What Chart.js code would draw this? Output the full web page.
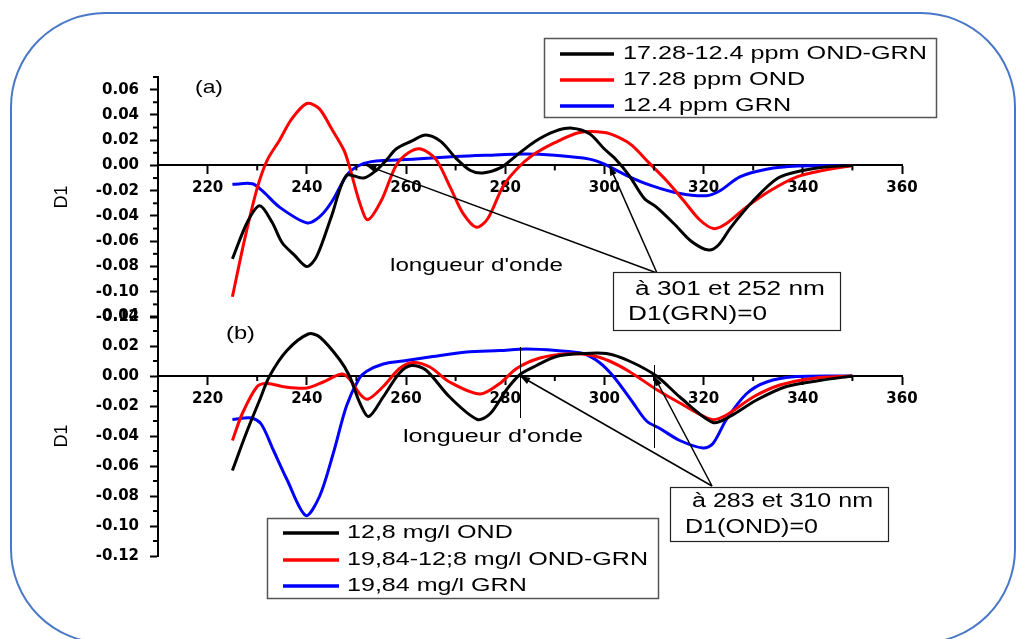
<!DOCTYPE html>
<html><head><meta charset="utf-8">
<script src="https://cdn.jsdelivr.net/npm/chart.js@4.4.1/dist/chart.umd.min.js"></script>
<style>
html,body{margin:0;padding:0;background:#fff;width:1020px;height:639px;overflow:hidden;}
#wrap{position:relative;width:1020px;height:639px;overflow:hidden;}
#frame{position:absolute;left:10px;top:12px;width:1006px;height:632px;box-sizing:border-box;border:2px solid #4a78c8;border-radius:95px;}
canvas{position:absolute;left:0;}
#ca{top:0;}
#cb{top:240px;}
</style></head><body>
<div id="wrap"><div id="frame"></div>
<canvas id="ca" width="1020" height="340"></canvas>
<canvas id="cb" width="1020" height="399"></canvas>
</div>
<script>
// ---------- data (wavelength in nm, first derivative D1) ----------
const xTicks  = [220,240,260,280,300,320,340,360];
const yTicksA = [-0.12,-0.10,-0.08,-0.06,-0.04,-0.02,0,0.02,0.04,0.06];
const yTicksB = [-0.12,-0.10,-0.08,-0.06,-0.04,-0.02,0,0.02,0.04];

// panel (a)
const labelsA = ['17.28-12.4 ppm OND-GRN','17.28 ppm OND','12.4 ppm GRN'];
const aBlackNm = [225,228,230.5,233,235,237.5,240,242,245,248,251.5,254,256,258,261,264,267,270,273,275.5,279,282,286,290,293.5,297,300,302,305,308,310.5,314,317.5,321,323,325.5,330,335,340,345,350];
const aBlackD1 = [-0.074,-0.045,-0.032,-0.045,-0.061,-0.071,-0.080,-0.072,-0.040,-0.008,-0.010,-0.004,0.004,0.013,0.019,0.024,0.019,0.006,-0.004,-0.006,-0.002,0.007,0.019,0.027,0.0295,0.025,0.013,0.006,-0.008,-0.026,-0.033,-0.046,-0.060,-0.067,-0.063,-0.049,-0.028,-0.010,-0.004,-0.001,0];
const aRedNm = [225,227.5,230,232,234.5,237,240,242.5,245,247.5,248.6,250.7,252.3,255,258,260.5,263,266,269,271.5,274.2,276.5,279.5,282.3,285.5,290,295,300,303,305.5,309,312.5,316,319.2,322,324.6,328.6,333.4,338.8,344,350];
const aRedD1 = [-0.104,-0.058,-0.018,0.004,0.020,0.037,0.049,0.045,0.029,0.012,-0.001,-0.030,-0.043,-0.028,0.000,0.010,0.013,0.005,-0.018,-0.038,-0.049,-0.042,-0.017,-0.003,0.008,0.018,0.026,0.026,0.022,0.016,0.002,-0.012,-0.028,-0.043,-0.050,-0.046,-0.033,-0.020,-0.009,-0.004,0];
const aBlueNm = [225,229,231,234.5,240,242.5,245,248,250,253,262,270,276,284,290,297,300,304.5,309.5,315,320.5,323.3,327.3,332.7,339,350];
const aBlueD1 = [-0.015,-0.0145,-0.020,-0.033,-0.0455,-0.041,-0.029,-0.008,-0.001,0.003,0.005,0.007,0.008,0.009,0.008,0.005,0.001,-0.008,-0.016,-0.022,-0.024,-0.020,-0.009,-0.003,-0.0005,0];

// panel (b)
const labelsB = ['12,8 mg/l OND','19,84-12;8 mg/l OND-GRN','19,84 mg/l GRN'];
const bBlackNm = [225,227.8,230.5,232.5,236,240.3,242.6,246.6,248.6,250.7,252.5,255.4,258.7,261.1,264,268.8,274.4,277,280.3,283,286.3,290.3,295.7,300.4,305,310.5,315.2,321.9,325.3,330.7,336.7,343.4,350];
const bBlackD1 = [-0.063,-0.038,-0.016,0.000,0.017,0.028,0.026,0.011,0.000,-0.018,-0.027,-0.014,0.002,0.007,0.004,-0.014,-0.029,-0.025,-0.009,0.001,0.007,0.013,0.015,0.015,0.010,0.000,-0.014,-0.031,-0.027,-0.016,-0.007,-0.003,0];
const bRedNm = [225,227,230,232,236,240,243.3,247,248.6,250.7,252.3,255.4,258.7,261.4,264.8,268.8,274.9,278.9,282.3,287,292.4,297.1,301,305,310.5,315.2,321.6,324.6,330,335.4,342,350];
const bRedD1 = [-0.043,-0.025,-0.007,-0.005,-0.0075,-0.008,-0.004,0.0013,-0.002,-0.012,-0.0155,-0.007,0.005,0.009,0.006,-0.004,-0.012,-0.005,0.005,0.012,0.0147,0.014,0.010,0.003,-0.009,-0.018,-0.029,-0.026,-0.014,-0.006,-0.0016,0];
const bBlueNm = [225,228.8,230.8,233.2,236,239.8,242.6,245.3,248,250.5,252,255.4,259.4,265.4,272.2,278.9,284.3,290.3,295.7,299,302,305.8,308.5,311.2,315.2,319.9,321.9,324.6,328.6,332.7,338.8,350];
const bBlueD1 = [-0.029,-0.028,-0.032,-0.049,-0.069,-0.093,-0.080,-0.052,-0.020,-0.002,0.003,0.008,0.010,0.013,0.016,0.017,0.018,0.017,0.015,0.009,-0.001,-0.018,-0.030,-0.035,-0.043,-0.048,-0.045,-0.029,-0.012,-0.004,-0.0004,0];

// ---------- helpers ----------
const pts = (xs, ys) => xs.map((x, i) => ({x, y: ys[i]}));
const TXT_FONT = '"Liberation Sans", Arial, sans-serif';

function seg(ctx, x1, y1, x2, y2) { ctx.beginPath(); ctx.moveTo(x1, y1); ctx.lineTo(x2, y2); ctx.stroke(); }
function arrow(ctx, x1, y1, x2, y2) {
  seg(ctx, x1, y1, x2, y2);
  const a = Math.atan2(y2 - y1, x2 - x1), L = 10, H = 3.5;
  ctx.beginPath();
  ctx.moveTo(x2, y2);
  ctx.lineTo(x2 - L * Math.cos(a) + H * Math.sin(a), y2 - L * Math.sin(a) - H * Math.cos(a));
  ctx.lineTo(x2 - L * Math.cos(a) - H * Math.sin(a), y2 - L * Math.sin(a) + H * Math.cos(a));
  ctx.closePath(); ctx.fill();
}
function stretchText(ctx, text, x, y, size, width, sxFixed) {
  ctx.save();
  ctx.font = size + 'px ' + TXT_FONT;
  ctx.textBaseline = 'middle'; ctx.textAlign = 'left'; ctx.fillStyle = '#000';
  const w = ctx.measureText(text).width;
  const sx = sxFixed || (width ? width / w : 1);
  ctx.translate(x, y); ctx.scale(sx, 1); ctx.fillText(text, 0, 0);
  ctx.restore();
}

const minorTicks = {
  id: 'minorTicks',
  afterDraw(chart) {
    const {ctx, scales: {x, y}} = chart;
    ctx.save(); ctx.strokeStyle = '#000'; ctx.lineWidth = 2;
    const ax = y.right;
    for (let k = Math.round(y.min * 100); k <= Math.round(y.max * 100); k++) {
      if (Math.abs(k) % 2 === 1) { const py = y.getPixelForValue(k / 100); seg(ctx, ax - 5, py, ax, py); }
    }
    const py0 = y.getPixelForValue(0);
    for (let k = 23; k <= 35; k += 2) { const px = x.getPixelForValue(k * 10); seg(ctx, px, py0, px, py0 + 5); }
    ctx.restore();
  }
};

function makeDecor(spec, offY) {
  return {
    id: 'decor',
    afterDraw(chart) {
      const {ctx, scales: {x, y}} = chart;
      ctx.save();
      spec.labels.forEach(l => stretchText(ctx, l.t, l.x, l.y - offY, l.size, l.w));
      ctx.strokeStyle = '#000'; ctx.fillStyle = '#000'; ctx.lineWidth = 1;
      (spec.vlines || []).forEach(v => {
        const px = Math.round(x.getPixelForValue(v[0])) + 0.5;
        seg(ctx, px, y.getPixelForValue(v[1]), px, y.getPixelForValue(v[2]));
      });
      ctx.lineWidth = 1.5;
      spec.arrows.to.forEach(t => arrow(ctx, spec.arrows.from[0], spec.arrows.from[1] - offY, x.getPixelForValue(t[0]), y.getPixelForValue(t[1])));
      const b = spec.box;
      ctx.fillStyle = '#fff'; ctx.fillRect(b.x, b.y - offY, b.w, b.h);
      ctx.strokeStyle = '#222'; ctx.lineWidth = 1.2; ctx.strokeRect(b.x + 0.5, b.y - offY + 0.5, b.w, b.h);
      b.texts.forEach(l => stretchText(ctx, l.t, l.x, l.y - offY, l.size, l.w));
      const g = spec.legend;
      ctx.fillStyle = '#fff'; ctx.fillRect(g.x, g.y - offY, g.w, g.h);
      ctx.strokeStyle = '#555'; ctx.lineWidth = 1.5; ctx.strokeRect(g.x + 0.5, g.y - offY + 0.5, g.w, g.h);
      const ds = chart.data.datasets;
      ctx.font = g.size + 'px ' + TXT_FONT;
      const longest = Math.max(...ds.map(d => ctx.measureText(d.label).width));
      const sx = g.tw / longest;
      ds.forEach((d, i) => {
        const ry = g.rows[i] - offY;
        ctx.strokeStyle = d.borderColor; ctx.lineWidth = 3.5;
        seg(ctx, g.lx1, ry, g.lx2, ry);
        stretchText(ctx, d.label, g.tx, ry, g.size, null, sx);
      });
      ctx.restore();
    }
  };
}

function makeChart(id, datasets, yMin, yMax, yTicks, padding, spec, offY) {
  return new Chart(document.getElementById(id), {
    type: 'line',
    data: {datasets},
    options: {
      responsive: false, animation: false, devicePixelRatio: 1,
      layout: {padding},
      plugins: {legend: {display: false}, tooltip: {enabled: false}},
      elements: {point: {radius: 0}, line: {borderWidth: 3, tension: 0.3, fill: false}},
      scales: {
        x: {
          type: 'linear', min: 210, max: 360, position: {y: 0},
          afterBuildTicks: s => { s.ticks = xTicks.map(v => ({value: v})); },
          ticks: {autoSkip: false, maxRotation: 0, color: '#000', padding: 6,
                  font: {family: 'DejaVu Sans', weight: 'bold', size: 15}},
          grid: {drawOnChartArea: false, drawTicks: true, tickLength: 8, tickColor: '#000', tickWidth: 2},
          border: {display: true, color: '#000', width: 2}
        },
        y: {
          type: 'linear', position: 'left', min: yMin, max: yMax,
          afterBuildTicks: s => { s.ticks = yTicks.map(v => ({value: v})); },
          afterFit: s => { s.width = 107; },
          ticks: {autoSkip: false, color: '#000', padding: 11,
                  font: {family: 'DejaVu Sans', weight: 'bold', size: 15},
                  callback: v => (Math.abs(v) < 1e-9 ? 0 : v).toFixed(2)},
          grid: {drawOnChartArea: false, drawTicks: true, tickLength: 8, tickColor: '#000', tickWidth: 2},
          border: {display: true, color: '#000', width: 2},
          title: {display: true, text: 'D1', color: '#000', padding: 0,
                  font: {family: 'Liberation Sans', size: 18, weight: 'normal'}}
        }
      }
    },
    plugins: [minorTicks, makeDecor(spec, offY)]
  });
}

const dsA = [
  {label: labelsA[0], data: pts(aBlackNm, aBlackD1), borderColor: '#000000'},
  {label: labelsA[1], data: pts(aRedNm, aRedD1), borderColor: '#ff0000'},
  {label: labelsA[2], data: pts(aBlueNm, aBlueD1), borderColor: '#0000ff'}
];
const dsB = [
  {label: labelsB[0], data: pts(bBlackNm, bBlackD1), borderColor: '#000000'},
  {label: labelsB[1], data: pts(bRedNm, bRedD1), borderColor: '#ff0000'},
  {label: labelsB[2], data: pts(bBlueNm, bBlueD1), borderColor: '#0000ff'}
];

const specA = {
  labels: [{t: '(a)', x: 195, y: 88, size: 19, w: 28}, {t: "longueur d'onde", x: 390, y: 266, size: 18, w: 173}],
  arrows: {from: [657, 273], to: [[252, 0], [301, 0]]},
  box: {x: 613, y: 272, w: 227, h: 58, texts: [
    {t: 'à 301 et 252 nm', x: 635, y: 289, size: 20, w: 190},
    {t: 'D1(GRN)=0', x: 628, y: 314, size: 20, w: 139}]},
  legend: {x: 544, y: 38, w: 392, h: 79, rows: [54, 80, 106], lx1: 560, lx2: 614, tx: 623, tw: 304, size: 19}
};
const specB = {
  labels: [{t: '(b)', x: 226, y: 334, size: 19, w: 29}, {t: "longueur d'onde", x: 403, y: 437, size: 18, w: 180}],
  vlines: [[283, 0.0193, -0.028], [310, 0.0073, -0.048]],
  arrows: {from: [712, 486], to: [[283, 0], [310, 0]]},
  box: {x: 670, y: 487, w: 218, h: 54, texts: [
    {t: 'à 283 et 310 nm', x: 692, y: 501, size: 20, w: 181},
    {t: 'D1(OND)=0', x: 685, y: 527, size: 20, w: 133}]},
  legend: {x: 267, y: 518, w: 391, h: 80, rows: [533, 560, 586], lx1: 283, lx2: 339, tx: 347, tw: 301, size: 19}
};

makeChart('ca', dsA, -0.12, 0.07, yTicksA, {left: 51, right: 118, top: 77, bottom: 23}, specA, 0);
makeChart('cb', dsB, -0.12, 0.04, yTicksB, {left: 51, right: 118, top: 76, bottom: 83}, specB, 240);
</script>
</body></html>
